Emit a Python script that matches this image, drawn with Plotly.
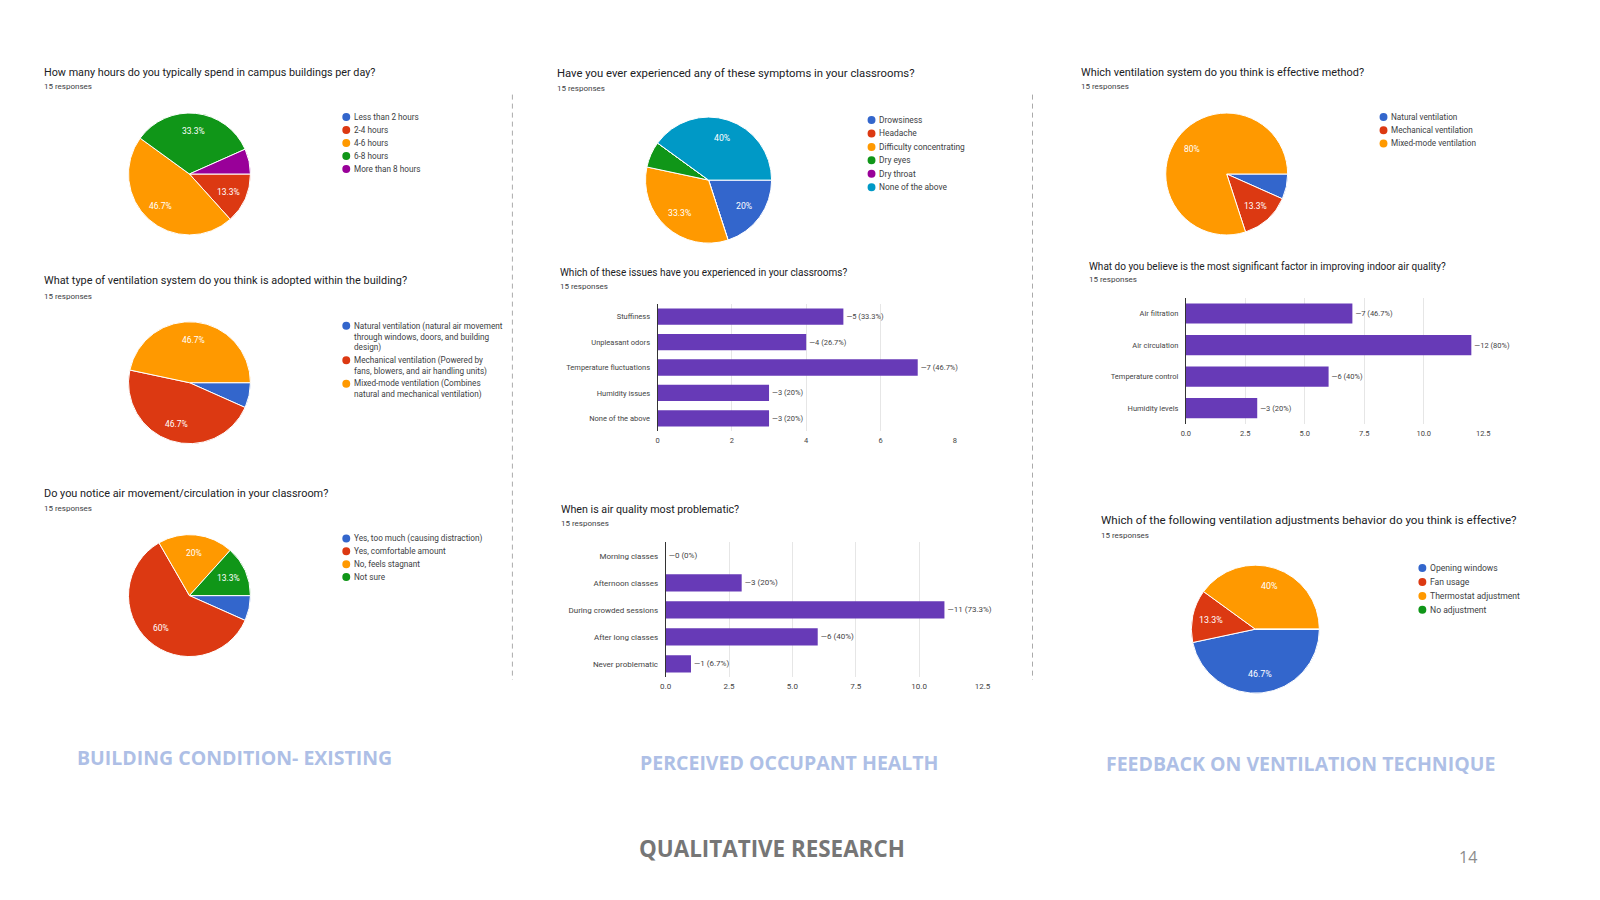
import math
import plotly.graph_objects as go

W, H = 1600, 900
RESP = 15

# pie data (counts out of 15 responses)
hours_labels = ['Less than 2 hours', '2-4 hours', '4-6 hours', '6-8 hours', 'More than 8 hours']
hours_values = [0, 2, 7, 5, 1]

vent_type_labels = ['Natural ventilation (natural air movement<br>through windows, doors, and building<br>design)',
                    'Mechanical ventilation (Powered by<br>fans, blowers, and air handling units)',
                    'Mixed-mode ventilation (Combines<br>natural and mechanical ventilation)']
vent_type_values = [1, 7, 7]

air_move_labels = ['Yes, too much (causing distraction)', 'Yes, comfortable amount', 'No, feels stagnant', 'Not sure']
air_move_values = [1, 9, 3, 2]

symptom_labels = ['Drowsiness', 'Headache', 'Difficulty concentrating', 'Dry eyes', 'Dry throat', 'None of the above']
symptom_values = [3, 0, 5, 1, 0, 6]

effective_labels = ['Natural ventilation', 'Mechanical ventilation', 'Mixed-mode ventilation']
effective_values = [1, 2, 12]

adjust_labels = ['Opening windows', 'Fan usage', 'Thermostat adjustment', 'No adjustment']
adjust_values = [7, 2, 6, 0]

# bar data
issue_labels = ['Stuffiness', 'Unpleasant odors', 'Temperature fluctuations', 'Humidity issues', 'None of the above']
issue_values = [5, 4, 7, 3, 3]

time_labels = ['Morning classes', 'Afternoon classes', 'During crowded sessions', 'After long classes', 'Never problematic']
time_values = [0, 3, 11, 6, 1]

factor_labels = ['Air filtration', 'Air circulation', 'Temperature control', 'Humidity levels']
factor_values = [7, 12, 6, 3]

section_labels = ['BUILDING CONDITION- EXISTING', 'PERCEIVED OCCUPANT HEALTH', 'FEEDBACK ON VENTILATION TECHNIQUE']

PIE_COLORS = ['#3366cc', '#dc3912', '#ff9900', '#109618', '#990099', '#0099c6']
BAR_COLOR = '#673ab7'
FONT = 'Roboto, Arial, sans-serif'


def px(x):
    return x / W


def py(y):
    return 1 - y / H


def pct(v):
    s = f'{v / RESP * 100:.1f}'
    if s.endswith('.0'):
        s = s[:-2]
    return s + '%'


fig = go.Figure()
annotations = []
shapes = []


def add_title(x, y, title, sub_y, size=11):
    annotations.append(dict(x=px(x), y=py(y), xref='paper', yref='paper', text=title, showarrow=False,
                            xanchor='left', yanchor='middle', font=dict(size=size, color='#202124', family=FONT)))
    annotations.append(dict(x=px(x), y=py(sub_y), xref='paper', yref='paper', text=f'{RESP} responses',
                            showarrow=False, xanchor='left', yanchor='middle',
                            font=dict(size=8, color='#3c4043', family=FONT)))


def add_pie(labels, values, cx, cy, r, lx, rows, line_h=11.2, fs=8.2):
    colors = PIE_COLORS[:len(labels)]
    fig.add_trace(go.Pie(
        labels=[l.replace('<br>', ' ') for l in labels], values=values, sort=False,
        direction='clockwise', rotation=90,
        marker=dict(colors=colors, line=dict(color='white', width=1)),
        textinfo='none',
        domain=dict(x=[px(cx - r), px(cx + r)], y=[py(cy + r), py(cy - r)]),
        showlegend=False, hoverinfo='label+value+percent'))
    # percentage labels like google forms: only slices >= 10%, at 0.7 of the radius
    total = sum(values)
    cum = 0
    for v in values:
        if v / total >= 0.1:
            ang = (cum + v / 2) / total * 2 * math.pi
            tx = cx + 0.7 * r * math.cos(ang)
            ty = cy + 0.7 * r * math.sin(ang)
            annotations.append(dict(x=px(tx), y=py(ty), xref='paper', yref='paper', text=pct(v),
                                    showarrow=False, xanchor='center', yanchor='middle',
                                    font=dict(size=fs + 0.3, color='white', family=FONT)))
        cum += v
    # legend with round markers
    for lab, col, ry in zip(labels, colors, rows):
        n = lab.count('<br>')
        shapes.append(dict(type='circle', xref='paper', yref='paper', fillcolor=col, line=dict(width=0),
                           x0=px(lx - 2.5), x1=px(lx + 5.5), y0=py(ry + 4), y1=py(ry - 4)))
        annotations.append(dict(x=px(lx + 7.5), y=py(ry + n * line_h / 2), xref='paper', yref='paper',
                                text=lab, showarrow=False, xanchor='left', yanchor='middle', align='left',
                                font=dict(size=fs, color='#3c4043', family=FONT)))


def add_bar(n, labels, values, x0, x1, y0, y1, xmax, dtick, fmt, fs=7.5):
    xa = 'x' if n == 1 else f'x{n}'
    ya = 'y' if n == 1 else f'y{n}'
    fig.add_trace(go.Bar(
        x=values, y=labels, orientation='h', marker=dict(color=BAR_COLOR, line=dict(width=0)),
        text=[f'—{v} ({pct(v)})' for v in values], textposition='outside', cliponaxis=False,
        constraintext='none', outsidetextfont=dict(size=fs, color='#444444', family=FONT),
        xaxis=xa, yaxis=ya, showlegend=False, hoverinfo='x+y'))
    fig.update_layout(**{
        ('xaxis' if n == 1 else f'xaxis{n}'): dict(
            domain=[px(x0), px(x1)], anchor=ya, range=[0, xmax], dtick=dtick, tickformat=fmt,
            showgrid=True, gridcolor='#e6e6e6', gridwidth=1, zeroline=False, showline=False,
            ticklabelstandoff=3, tickfont=dict(size=fs, color='#444444', family=FONT), fixedrange=True),
        ('yaxis' if n == 1 else f'yaxis{n}'): dict(
            domain=[py(y1), py(y0)], anchor=xa, autorange='reversed', showgrid=False,
            showline=True, linecolor='#333333', linewidth=1, ticks='', ticklabelstandoff=5,
            tickfont=dict(size=fs, color='#444444', family=FONT), fixedrange=True),
    })


# left column
add_title(28.6, 64.2, 'How many hours do you typically spend in campus buildings per day?', 78.4, 10.8)
add_pie(hours_labels, hours_values, 177, 166, 61.5, 333.7, [109 + 13 * i for i in range(5)])

add_title(28.6, 272.9, 'What type of ventilation system do you think is adopted within the building?', 288.2, 10.9)
add_pie(vent_type_labels, vent_type_values, 177, 374.7, 61.5, 333.7, [317.7, 352.3, 375.8])

add_title(28.6, 485.7, 'Do you notice air movement/circulation in your classroom?', 500, 10.9)
add_pie(air_move_labels, air_move_values, 177, 587.6, 61.5, 333.7, [530.5 + 12.85 * i for i in range(4)])

# middle column
add_title(546.1, 65.2, 'Have you ever experienced any of these symptoms in your classrooms?', 80.4, 11.3)
add_pie(symptom_labels, symptom_values, 700.7, 172.1, 63.6, 863.6, [112 + 13.44 * i for i in range(6)],
        fs=8.4)

add_title(549.2, 264.8, 'Which of these issues have you experienced in your classrooms?', 278, 10.0)
add_bar(1, issue_labels, issue_values, 649.2, 949.2, 295.9, 423.1, 8, 2, 'd')

add_title(550.2, 501, 'When is air quality most problematic?', 515.3, 10.7)
add_bar(2, time_labels, time_values, 657.4, 977, 534.4, 669.3, 12.5, 2.5, '.1f', fs=8)

# right column
add_title(1074.9, 64.2, 'Which ventilation system do you think is effective method?', 78.4, 10.9)
add_pie(effective_labels, effective_values, 1223.4, 166, 61.5, 1380.1, [109 + 13.2 * i for i in range(3)])

add_title(1082.2, 258.7, 'What do you believe is the most significant factor in improving indoor air quality?', 271.9, 10.0)
add_bar(3, factor_labels, factor_values, 1182.2, 1482.2, 289.7, 416, 12.5, 2.5, '.1f')

add_title(1094.5, 512.2, 'Which of the following ventilation adjustments behavior do you think is effective?', 527.5, 11.6)
add_pie(adjust_labels, adjust_values, 1252.3, 621.2, 64.6, 1419.3, [560.1 + 13.9 * i for i in range(4)],
        fs=8.6)

# dashed column separators
for sx in [502.8, 1027.5]:
    shapes.append(dict(type='line', xref='paper', yref='paper', x0=px(sx), x1=px(sx), y0=py(86.6), y1=py(672),
                       line=dict(color='#aaaaaa', width=1, dash='5px,4px')))

# section headings
for lab, (sx, sy) in zip(section_labels, [(222.4, 749.5), (782.2, 754.6), (1297.6, 755.6)]):
    annotations.append(dict(x=px(sx), y=py(sy), xref='paper', yref='paper', text=f'<b>{lab}</b>',
                            showarrow=False, xanchor='center', yanchor='middle',
                            font=dict(size=19.5, color='#aebfe6', family='Open Sans, sans-serif')))

annotations.append(dict(x=px(764.6), y=py(840.1), xref='paper', yref='paper', text='<b>QUALITATIVE RESEARCH</b>',
                        showarrow=False, xanchor='center', yanchor='middle',
                        font=dict(size=22.4, color='#767676', family='Open Sans, sans-serif')))
annotations.append(dict(x=px(1466.7), y=py(849.3), xref='paper', yref='paper', text='14', showarrow=False,
                        xanchor='center', yanchor='middle',
                        font=dict(size=16, color='#8c8c8c', family='Open Sans, sans-serif')))

fig.update_layout(width=W, height=H, margin=dict(l=0, r=0, t=0, b=0), paper_bgcolor='white',
                  plot_bgcolor='white', bargap=0.36, annotations=annotations, shapes=shapes,
                  font=dict(family=FONT))

fig.write_html('out.html')
